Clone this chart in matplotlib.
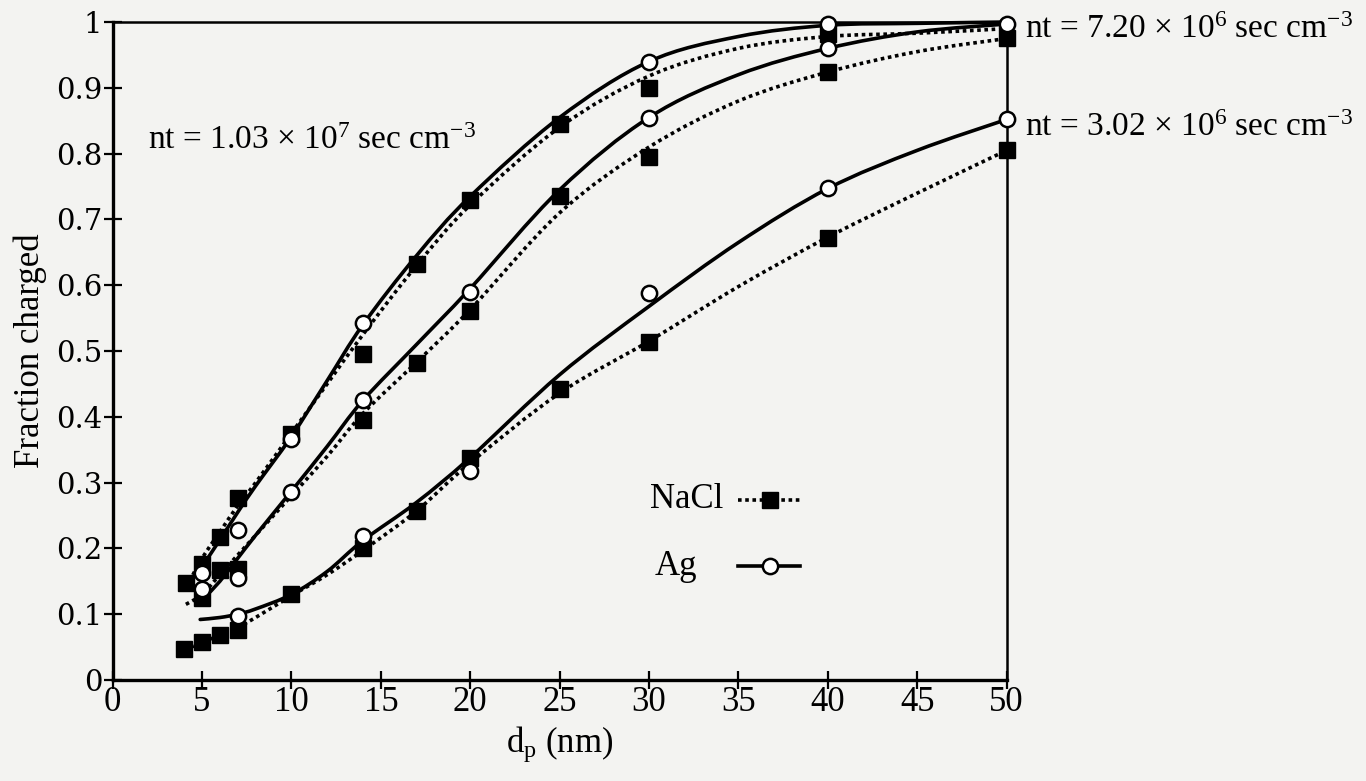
import matplotlib
matplotlib.use("Agg")
import numpy as np
import matplotlib.pyplot as plt
from matplotlib.lines import Line2D
from matplotlib.path import Path
from matplotlib.patches import PathPatch

plt.rcParams['font.family'] = ['Liberation Serif', 'DejaVu Serif']
plt.rcParams['mathtext.fontset'] = 'custom'
plt.rcParams['mathtext.rm'] = 'Liberation Serif'
plt.rcParams['mathtext.it'] = 'Liberation Serif:italic'

# ---------------- data ----------------
# nt = 1.03e7 (upper group)
hi_ag_d = [5, 7, 10, 14, 30, 40]
hi_ag_f = [0.162, 0.228, 0.366, 0.542, 0.940, 0.997]
hi_nacl_d = [4.1, 5, 6, 7, 10, 14, 17, 20, 25, 30, 40]
hi_nacl_f = [0.148, 0.177, 0.217, 0.276, 0.374, 0.495, 0.632, 0.729, 0.845, 0.899, 0.982]

# nt = 7.20e6 (middle group)
mid_ag_d = [5, 7, 10, 14, 20, 30, 40, 50]
mid_ag_f = [0.139, 0.155, 0.285, 0.426, 0.589, 0.854, 0.960, 0.997]
mid_nacl_d = [5, 6, 7, 14, 17, 20, 25, 30, 40, 50]
mid_nacl_f = [0.124, 0.167, 0.168, 0.395, 0.482, 0.561, 0.736, 0.795, 0.924, 0.975]

# nt = 3.02e6 (lower group)
lo_ag_d = [7, 14, 20, 30, 40, 50]
lo_ag_f = [0.098, 0.219, 0.317, 0.588, 0.747, 0.852]
lo_nacl_d = [4, 5, 6, 7, 10, 14, 17, 20, 25, 30, 40, 50]
lo_nacl_f = [0.047, 0.058, 0.069, 0.076, 0.131, 0.200, 0.257, 0.338, 0.442, 0.514, 0.672, 0.805]

# fitted curves
hi_ag_curve_d = [5, 6, 7, 8, 10, 12, 14, 17, 20, 25, 30, 35, 40, 45, 50]
hi_ag_curve_f = [0.172, 0.213, 0.255, 0.295, 0.370, 0.455, 0.540, 0.645, 0.735, 0.855, 0.940, 0.978, 0.995, 0.998, 1.000]
hi_nacl_curve_d = [4.3, 5, 6, 7, 8, 10, 12, 14, 17, 20, 25, 30, 35, 40, 45, 50]
hi_nacl_curve_f = [0.150, 0.185, 0.225, 0.265, 0.300, 0.375, 0.450, 0.525, 0.630, 0.722, 0.840, 0.918, 0.960, 0.978, 0.983, 0.990]

mid_ag_curve_d = [5.2, 6, 7, 8, 10, 12, 14, 17, 20, 25, 30, 35, 40, 45, 50]
mid_ag_curve_f = [0.127, 0.150, 0.185, 0.220, 0.287, 0.355, 0.425, 0.510, 0.595, 0.745, 0.855, 0.920, 0.960, 0.985, 0.997]
mid_nacl_curve_d = [4.1, 5, 6, 7, 8, 10, 12, 14, 17, 20, 25, 30, 35, 40, 45, 50]
mid_nacl_curve_f = [0.115, 0.130, 0.160, 0.190, 0.220, 0.280, 0.340, 0.405, 0.483, 0.563, 0.710, 0.810, 0.880, 0.924, 0.955, 0.975]

lo_ag_curve_d = [4.9, 6, 7, 8, 10, 12, 14, 17, 20, 25, 30, 35, 40, 45, 50]
lo_ag_curve_f = [0.092, 0.095, 0.100, 0.108, 0.130, 0.165, 0.212, 0.270, 0.338, 0.464, 0.568, 0.665, 0.747, 0.805, 0.852]
lo_nacl_curve_d = [4, 5, 6, 7, 8, 10, 12, 14, 17, 20, 25, 30, 35, 40, 45, 50]
lo_nacl_curve_f = [0.045, 0.057, 0.068, 0.080, 0.095, 0.128, 0.160, 0.197, 0.257, 0.330, 0.436, 0.515, 0.598, 0.673, 0.740, 0.805]

x_ticks = [0, 5, 10, 15, 20, 25, 30, 35, 40, 45, 50]
y_ticks = [0, 0.1, 0.2, 0.3, 0.4, 0.5, 0.6, 0.7, 0.8, 0.9, 1]
y_tick_labels = ['0', '0.1', '0.2', '0.3', '0.4', '0.5', '0.6', '0.7', '0.8', '0.9', '1']

labels = [
    (2.0, 0.82, 'nt = 1.03 × 10$^{7}$ sec cm$^{-3}$'),
    (51.0, 0.988, 'nt = 7.20 × 10$^{6}$ sec cm$^{-3}$'),
    (51.0, 0.839, 'nt = 3.02 × 10$^{6}$ sec cm$^{-3}$'),
]
legend_names = ['NaCl', 'Ag']

# ---------------- figure ----------------
BG = '#f3f3f1'
fig = plt.figure(figsize=(13.66, 7.81), dpi=100, facecolor=BG)
ax = fig.add_axes([0.0824, 0.1293, 0.6546, 0.8425], facecolor=BG)
ax.set_xlim(0, 50)
ax.set_ylim(0, 1)

dotted = (0, (1.0, 1.0))


def smooth_path(xs, ys):
    """Smooth (Catmull-Rom as cubic Bezier) path through the read points."""
    p = np.column_stack([xs, ys]).astype(float)
    verts = [p[0]]
    codes = [Path.MOVETO]
    n = len(p)
    for i in range(n - 1):
        p0 = p[i - 1] if i > 0 else p[i]
        p1, p2 = p[i], p[i + 1]
        p3 = p[i + 2] if i + 2 < n else p[i + 1]
        c1 = p1 + (p2 - p0) / 6.0
        c2 = p2 - (p3 - p1) / 6.0
        verts += [c1, c2, p2]
        codes += [Path.CURVE4] * 3
    return Path(verts, codes)


for cd, cf in [(hi_ag_curve_d, hi_ag_curve_f), (mid_ag_curve_d, mid_ag_curve_f), (lo_ag_curve_d, lo_ag_curve_f)]:
    ax.add_patch(PathPatch(smooth_path(cd, cf), fill=False, edgecolor='black', lw=2.6,
                           linestyle='-', capstyle='round', zorder=2, clip_on=False))
for cd, cf in [(hi_nacl_curve_d, hi_nacl_curve_f), (mid_nacl_curve_d, mid_nacl_curve_f), (lo_nacl_curve_d, lo_nacl_curve_f)]:
    ax.add_patch(PathPatch(smooth_path(cd, cf), fill=False, edgecolor='black', lw=2.6,
                           linestyle=dotted, capstyle='butt', zorder=2, clip_on=False))

sq_kw = dict(marker='s', ms=11, mfc='black', mec='black', ls='none', zorder=4, clip_on=False)
ci_kw = dict(marker='o', ms=11, mfc='white', mec='black', mew=1.8, ls='none', zorder=5, clip_on=False)
for d, f in [(hi_nacl_d, hi_nacl_f), (mid_nacl_d, mid_nacl_f), (lo_nacl_d, lo_nacl_f)]:
    ax.plot(d, f, **sq_kw)
for d, f in [(hi_ag_d, hi_ag_f), (mid_ag_d, mid_ag_f), (lo_ag_d, lo_ag_f)]:
    ax.plot(d, f, **ci_kw)

ax.set_xticks(x_ticks)
ax.set_xticklabels([str(v) for v in x_ticks], fontsize=25, family='Liberation Serif')
ax.set_yticks(y_ticks)
ax.set_yticklabels(y_tick_labels, fontsize=21, family='DejaVu Serif')
ax.tick_params(axis='both', direction='inout', length=13, width=1.6, colors='black')
ax.tick_params(axis='x', pad=-2)
ax.tick_params(axis='y', pad=1)

for side in ['left', 'bottom']:
    ax.spines[side].set_linewidth(2.4)
for side in ['top', 'right']:
    ax.spines[side].set_linewidth(1.8)

ax.set_xlabel('d$_{\\mathrm{p}}$ (nm)', fontsize=25, labelpad=4)
ax.set_ylabel('Fraction charged', fontsize=25, labelpad=6)

for x, y, t in labels:
    ax.text(x, y, t, fontsize=24, ha='left', va='center', clip_on=False)

# legend (keys drawn in axes coordinates, text left-aligned as in the original)
key_styles = [
    dict(linestyle=dotted, marker='s', ms=11, mfc='black', mec='black'),
    dict(linestyle='-', marker='o', ms=11, mfc='white', mec='black', mew=1.8),
]
key_rows = [0.2736, 0.173]
key_text_x = [0.601, 0.6065]
for name, st, yr, tx in zip(legend_names, key_styles, key_rows, key_text_x):
    ax.text(tx, yr, name, transform=ax.transAxes, fontsize=25, ha='left', va='center')
    ax.add_line(Line2D([0.700, 0.769], [yr, yr], transform=ax.transAxes, color='black',
                       lw=2.6, dash_capstyle='butt', clip_on=False, **{k: v for k, v in st.items() if k not in ('marker', 'ms', 'mfc', 'mec', 'mew')}))
    ax.add_line(Line2D([0.735], [yr], transform=ax.transAxes, ls='none', clip_on=False, zorder=5,
                       **{k: v for k, v in st.items() if k != 'linestyle'}))

fig.savefig('out.png', dpi=100, facecolor=BG)
